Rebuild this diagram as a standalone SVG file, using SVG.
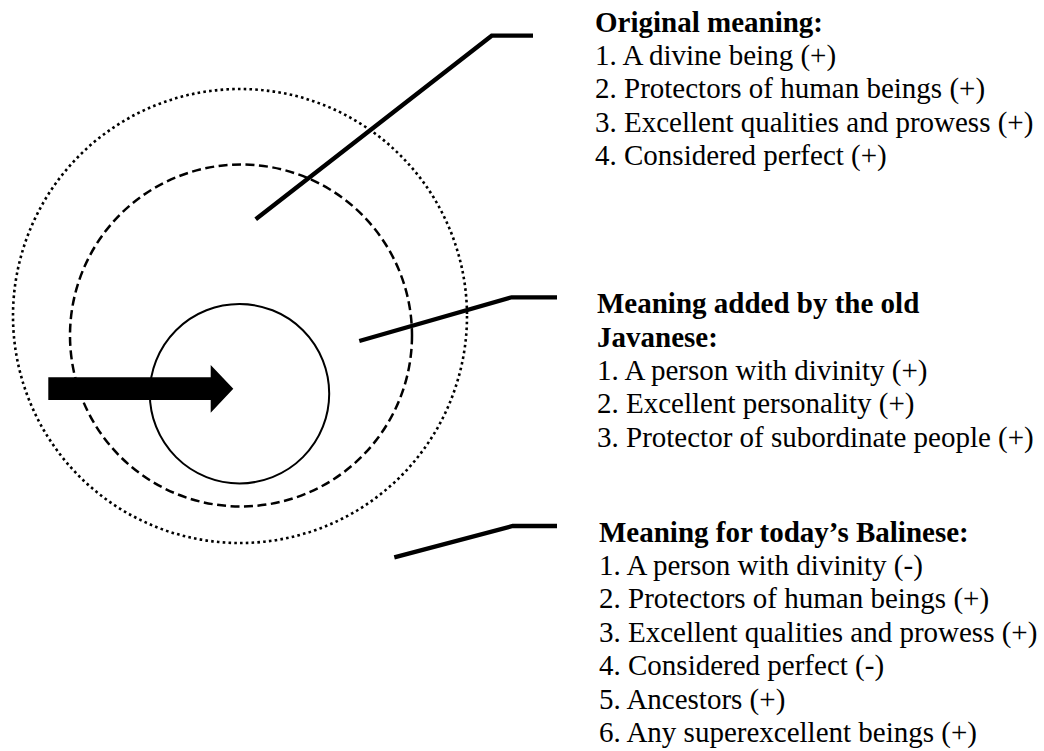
<svg xmlns="http://www.w3.org/2000/svg" width="1044" height="751" viewBox="0 0 1044 751">
  <style>
    .ring { fill: none; stroke: #000; }
    .dotted { stroke-width: 2.6; stroke-dasharray: 2.6 3.2; }
    .dashed { stroke-width: 2.5; stroke-dasharray: 9 4.5; }
    .solid { stroke-width: 2; }
    .leader { fill: none; stroke: #000; stroke-width: 4.3; stroke-linejoin: miter; }
    .txt { font-family: "Liberation Serif", "Times New Roman", serif; font-size: 29px; fill: #000; }
    .hd { font-weight: bold; }
  </style>
  <rect width="1044" height="751" fill="#fff"/>

  <g id="ring-outer">
    <circle class="ring dotted" cx="240" cy="316" r="227"/>
  </g>
  <g id="ring-middle">
    <circle class="ring dashed" cx="241" cy="335.5" r="171"/>
  </g>
  <g id="ring-inner">
    <circle class="ring solid" cx="239.5" cy="393.7" r="89.7"/>
  </g>
  <g id="arrow">
    <polygon points="48.3,377.3 210.7,377.3 210.7,365 233.3,388.7 210.7,412.7 210.7,400 48.3,400" fill="#000"/>
  </g>

  <g id="connectors">
    <polyline class="leader" points="255.7,219.3 491.7,35.7 533,35.7"/>
    <polyline class="leader" points="359.3,341 511.7,297.3 557,297.3"/>
    <polyline class="leader" points="394.3,557.3 512.7,526 557,526"/>
  </g>

  <g id="label-original" class="txt">
    <text x="595" y="31.5" class="hd">Original meaning:</text>
    <text x="595" y="64.9">1. A divine being (+)</text>
    <text x="595" y="98.2">2. Protectors of human beings (+)</text>
    <text x="595" y="131.6">3. Excellent qualities and prowess (+)</text>
    <text x="595" y="164.9">4. Considered perfect (+)</text>
  </g>

  <g id="label-javanese" class="txt">
    <text x="597" y="313.3" class="hd">Meaning added by the old</text>
    <text x="597" y="346.7" class="hd">Javanese:</text>
    <text x="597" y="380">1. A person with divinity (+)</text>
    <text x="597" y="413.4">2. Excellent personality (+)</text>
    <text x="597" y="446.7">3. Protector of subordinate people (+)</text>
  </g>

  <g id="label-balinese" class="txt">
    <text x="599" y="541.7" class="hd">Meaning for today’s Balinese:</text>
    <text x="599" y="575">1. A person with divinity (-)</text>
    <text x="599" y="608.4">2. Protectors of human beings (+)</text>
    <text x="599" y="641.8">3. Excellent qualities and prowess (+)</text>
    <text x="599" y="675.1">4. Considered perfect (-)</text>
    <text x="599" y="708.5">5. Ancestors (+)</text>
    <text x="599" y="741.8">6. Any superexcellent beings (+)</text>
  </g>
</svg>
